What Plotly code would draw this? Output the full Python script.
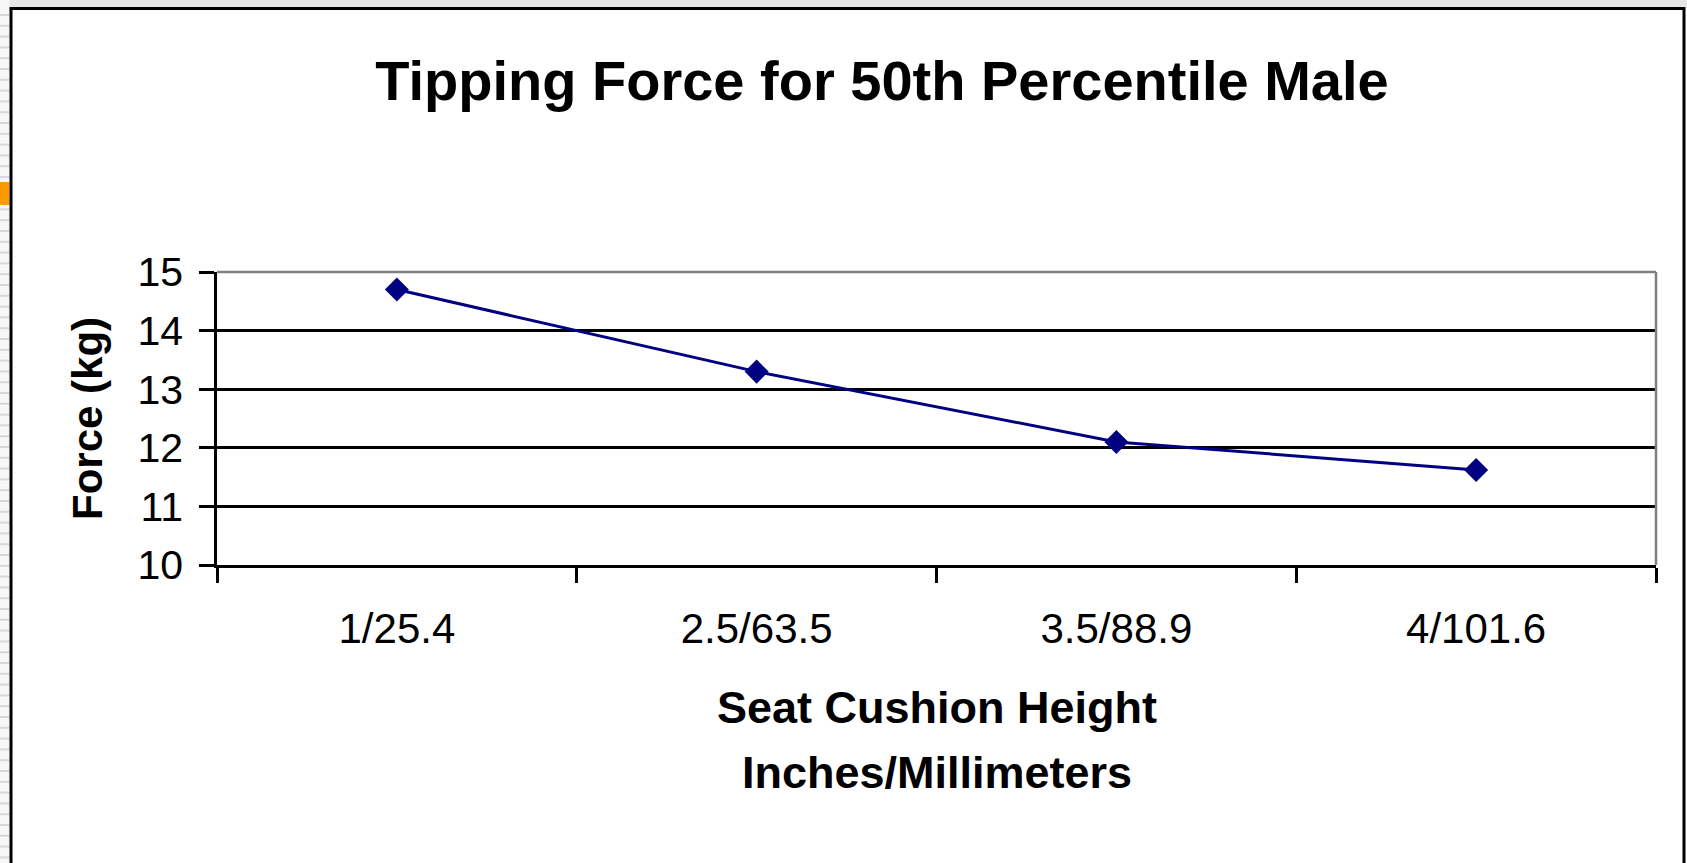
import plotly.graph_objects as go

# ---- data ----
categories = ["1/25.4", "2.5/63.5", "3.5/88.9", "4/101.6"]
force_kg = [14.7, 13.3, 12.1, 11.62]
y_ticks = [10, 11, 12, 13, 14, 15]

title_text = "Tipping Force for 50th Percentile Male"
y_title = "Force (kg)"
x_title_lines = ["Seat Cushion Height", "Inches/Millimeters"]

# ---- layout geometry (pixels) ----
FW, FH = 1687, 863
L, R, T, B = 217, 1656, 272, 565
W, H = R - L, B - T
FONT = "Liberation Sans, Arial, sans-serif"


def px(x):
    return (x - L) / W


def py(y):
    return (B - y) / H


fig = go.Figure()
fig.add_trace(go.Scatter(
    x=categories, y=force_kg, mode="lines+markers",
    line=dict(color="#000080", width=3),
    marker=dict(symbol="diamond", size=18.5, color="#000080"),
    showlegend=False, cliponaxis=False,
))

shapes = []
# light grey band at the top and striped strip at the left (slide background)
shapes.append(dict(type="rect", xref="paper", yref="paper", x0=px(0), x1=px(FW), y0=py(0), y1=py(7),
                   line=dict(width=0), fillcolor="#e6e6e6", layer="below"))
shapes.append(dict(type="rect", xref="paper", yref="paper", x0=px(0), x1=px(9.5), y0=py(0), y1=py(FH),
                   line=dict(width=0), fillcolor="#f7f7f7", layer="below"))
yy = 15.0
while yy < FH:
    shapes.append(dict(type="line", xref="paper", yref="paper", x0=px(0), x1=px(9.5), y0=py(yy), y1=py(yy),
                       line=dict(color="#d8d8d8", width=2), layer="below"))
    yy += 10.8
shapes.append(dict(type="rect", xref="paper", yref="paper", x0=px(0), x1=px(9.5), y0=py(182), y1=py(205),
                   line=dict(width=0), fillcolor="#ff9900"))
# black frame
shapes.append(dict(type="rect", xref="paper", yref="paper", x0=px(11), x1=px(1684), y0=py(8.5), y1=py(FH + 20),
                   line=dict(color="black", width=3), fillcolor="rgba(0,0,0,0)"))
# grey plot-area border (top and right)
shapes.append(dict(type="line", xref="paper", yref="paper", x0=0, x1=1, y0=1, y1=1,
                   line=dict(color="#808080", width=2.5)))
shapes.append(dict(type="line", xref="paper", yref="paper", x0=1, x1=1, y0=0, y1=1,
                   line=dict(color="#808080", width=2.5)))

annotations = [
    dict(text="<b>%s</b>" % y_title, xref="paper", yref="paper", x=px(87), y=py(419),
         xanchor="center", yanchor="middle", textangle=-90, showarrow=False,
         font=dict(family=FONT, size=42, color="black")),
    dict(text="<b>%s</b>" % x_title_lines[0], xref="paper", yref="paper", x=px(936.5), y=py(707),
         xanchor="center", yanchor="middle", showarrow=False,
         font=dict(family=FONT, size=45, color="black")),
    dict(text="<b>%s</b>" % x_title_lines[1], xref="paper", yref="paper", x=px(936.5), y=py(772),
         xanchor="center", yanchor="middle", showarrow=False,
         font=dict(family=FONT, size=45, color="black")),
]

fig.update_layout(
    width=FW, height=FH,
    margin=dict(l=L, r=FW - R, t=T, b=FH - B, pad=0, autoexpand=False),
    paper_bgcolor="white", plot_bgcolor="white",
    title=dict(text="<b>%s</b>" % title_text, xref="container", yref="container",
               x=882 / FW, xanchor="center", y=1 - 80 / FH, yanchor="middle",
               font=dict(family=FONT, size=56, color="black"), automargin=False),
    xaxis=dict(type="category", range=[-0.5, len(categories) - 0.5], autorange=False,
               showgrid=False, showline=True, linecolor="black", linewidth=2.5,
               ticks="outside", ticklen=15, tickwidth=2.5, tickcolor="black", tickson="boundaries",
               tickfont=dict(family=FONT, size=42, color="black"), ticklabelstandoff=25,
               zeroline=False, fixedrange=True, automargin=False),
    yaxis=dict(range=[10, 15], autorange=False, tickvals=y_ticks, showgrid=True, gridcolor="black",
               gridwidth=2.5, showline=True, linecolor="black", linewidth=2.5,
               ticks="outside", ticklen=15, tickwidth=2.5, tickcolor="black",
               tickfont=dict(family=FONT, size=41, color="black"), ticklabelstandoff=8,
               zeroline=False, fixedrange=True, automargin=False),
    shapes=shapes,
    annotations=annotations,
)

fig.write_html(
    "out.html",
    config={"displayModeBar": False},
    post_script="document.body.style.margin='0';document.body.style.overflow='hidden';",
)
